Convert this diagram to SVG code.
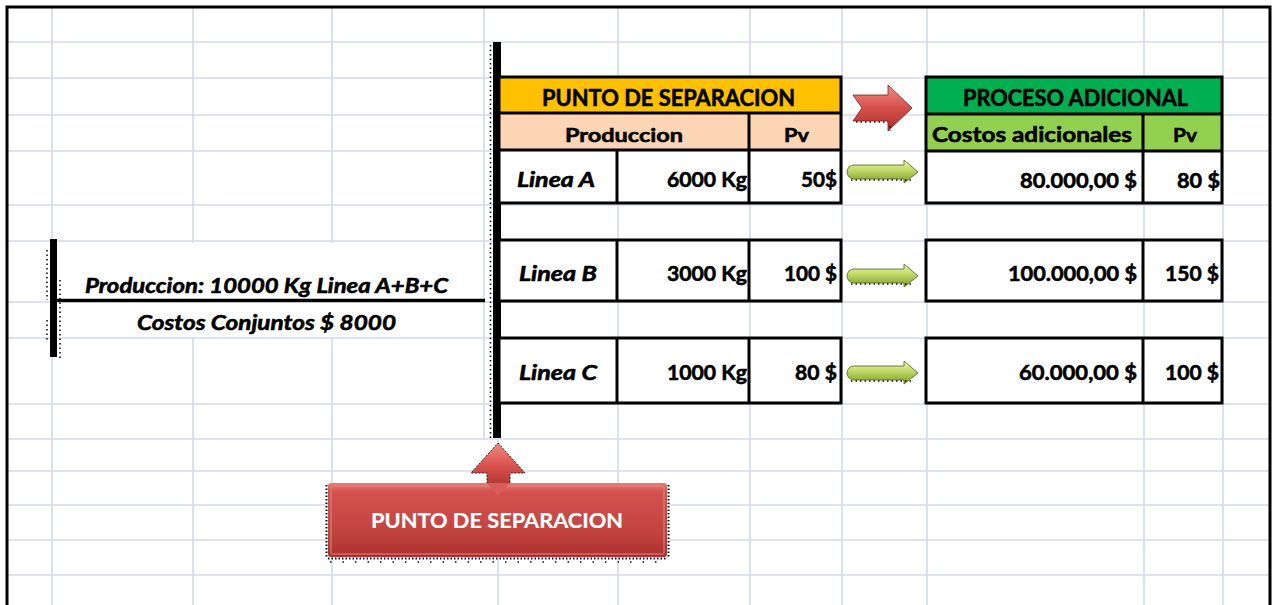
<svg xmlns="http://www.w3.org/2000/svg" width="1274" height="605" viewBox="0 0 1274 605">
<style>
.g{stroke:#D5DAE7;stroke-width:1.6;fill:none}
.b{stroke:#000;stroke-width:3;fill:none}
.t{font-family:Lato,'Open Sans','Liberation Sans',sans-serif;font-weight:700;fill:#000;stroke:#000;stroke-width:0.55}
.i{font-style:italic}
.s20{font-size:20px}
.s22{font-size:22px}
.w{fill:#fff;stroke:#fff;stroke-width:0.2}
.spk{stroke:#111;stroke-width:1.6;fill:none;stroke-dasharray:1.5 3}
</style>
<defs>
<linearGradient id="red" x1="0" y1="0" x2="0" y2="1">
<stop offset="0" stop-color="#E97A76"/>
<stop offset="0.12" stop-color="#D4524E"/>
<stop offset="0.7" stop-color="#C0423F"/>
<stop offset="1" stop-color="#A9302D"/>
</linearGradient>
<linearGradient id="redA" x1="0" y1="0" x2="0" y2="1">
<stop offset="0" stop-color="#F08A86"/>
<stop offset="0.5" stop-color="#D8504C"/>
<stop offset="1" stop-color="#A8302C"/>
</linearGradient>
<linearGradient id="lime" x1="0" y1="0" x2="0" y2="1">
<stop offset="0" stop-color="#EEF7C0"/>
<stop offset="0.4" stop-color="#C2DD6A"/>
<stop offset="1" stop-color="#7F9F2C"/>
</linearGradient>
</defs>
<rect width="1274" height="605" fill="#fff"/>
<g id="grid">
<path class="g" d="M7 42H1270M7 78H1270M7 115H1270M7 151H1270M7 205H1270M7 241H1270M7 302H1270M7 338H1270M7 404H1270M7 439H1270M7 471H1270M7 505H1270M7 540H1270M7 575H1270"/>
<path class="g" d="M52 7V605M193 7V605M332 7V605M484 7V440M498 440V605M618 7V605M750 7V605M842 7V605M927 7V605M1144 7V605M1223 7V605"/>
<rect x="53" y="243" width="430" height="94" fill="#fff"/>
<path d="M7 605V7H1270V605" fill="none" stroke="#000" stroke-width="3"/>
</g>
<g id="joint-production">
<rect x="50" y="239" width="7" height="118" fill="#000"/>
<path class="spk" d="M47 250V300M47 320V340M60 280V360"/>
<line x1="53" y1="300.5" x2="485" y2="300.5" stroke="#000" stroke-width="3.5"/>
<text class="t i s20" x="85" y="293" textLength="363" lengthAdjust="spacingAndGlyphs">Produccion: 10000 Kg Linea A+B+C</text>
<text class="t i s20" x="137" y="330" textLength="259" lengthAdjust="spacingAndGlyphs">Costos Conjuntos $ 8000</text>
</g>
<g id="split-bar">
<rect x="493" y="42" width="8" height="396" fill="#000"/>
<path class="spk" d="M490.5 45V438"/>
</g>
<g id="table-punto">
<rect x="499" y="77" width="342" height="36" fill="#FFC000"/>
<rect x="499" y="113" width="342" height="37" fill="#FCD5B4"/>
<rect x="499" y="150" width="342" height="53" fill="#fff"/>
<path class="b" d="M499 77H841V203H499ZM499 113H841M499 150H841M749 113V203M617 150V203"/>
<text class="t s22" x="542" y="106" textLength="253" lengthAdjust="spacingAndGlyphs">PUNTO DE SEPARACION</text>
<text class="t" font-size="19" x="565" y="142" textLength="118" lengthAdjust="spacingAndGlyphs">Produccion</text>
<text class="t" font-size="19" x="784" y="142" textLength="25" lengthAdjust="spacingAndGlyphs">Pv</text>
<text class="t i s20" x="517" y="187" textLength="78" lengthAdjust="spacingAndGlyphs">Linea A</text>
<text class="t s20" x="667" y="187" textLength="80" lengthAdjust="spacingAndGlyphs">6000 Kg</text>
<text class="t s20" x="801" y="187" textLength="36" lengthAdjust="spacingAndGlyphs">50$</text>
</g>
<g id="row-b-left">
<rect x="499" y="240" width="342" height="61" fill="#fff"/>
<path class="b" d="M499 240H841V301H499ZM617 240V301M749 240V301"/>
<text class="t i s20" x="519" y="281" textLength="78" lengthAdjust="spacingAndGlyphs">Linea B</text>
<text class="t s20" x="667" y="281" textLength="80" lengthAdjust="spacingAndGlyphs">3000 Kg</text>
<text class="t s20" x="784" y="281" textLength="53" lengthAdjust="spacingAndGlyphs">100 $</text>
</g>
<g id="row-c-left">
<rect x="499" y="338" width="342" height="65" fill="#fff"/>
<path class="b" d="M499 338H841V403H499ZM617 338V403M749 338V403"/>
<text class="t i s20" x="519" y="380" textLength="78" lengthAdjust="spacingAndGlyphs">Linea C</text>
<text class="t s20" x="667" y="380" textLength="80" lengthAdjust="spacingAndGlyphs">1000 Kg</text>
<text class="t s20" x="795" y="380" textLength="42" lengthAdjust="spacingAndGlyphs">80 $</text>
</g>
<g id="table-proceso">
<rect x="926" y="77" width="296" height="37" fill="#00B050"/>
<rect x="926" y="114" width="296" height="37" fill="#92D050"/>
<rect x="926" y="151" width="296" height="52" fill="#fff"/>
<path class="b" d="M926 77H1222V203H926ZM926 114H1222M926 151H1222M1143 114V203"/>
<text class="t s22" x="963" y="106" textLength="225" lengthAdjust="spacingAndGlyphs">PROCESO ADICIONAL</text>
<text class="t s20" x="932" y="142" textLength="200" lengthAdjust="spacingAndGlyphs">Costos adicionales</text>
<text class="t" font-size="19" x="1173" y="142" textLength="24" lengthAdjust="spacingAndGlyphs">Pv</text>
<text class="t s20" x="1020" y="188" textLength="117" lengthAdjust="spacingAndGlyphs">80.000,00 $</text>
<text class="t s20" x="1177" y="188" textLength="43" lengthAdjust="spacingAndGlyphs">80 $</text>
</g>
<g id="row-b-right">
<rect x="926" y="240" width="296" height="61" fill="#fff"/>
<path class="b" d="M926 240H1222V301H926ZM1143 240V301"/>
<text class="t s20" x="1008" y="281" textLength="129" lengthAdjust="spacingAndGlyphs">100.000,00 $</text>
<text class="t s20" x="1165" y="281" textLength="54" lengthAdjust="spacingAndGlyphs">150 $</text>
</g>
<g id="row-c-right">
<rect x="926" y="338" width="296" height="65" fill="#fff"/>
<path class="b" d="M926 338H1222V403H926ZM1143 338V403"/>
<text class="t s20" x="1019" y="380" textLength="118" lengthAdjust="spacingAndGlyphs">60.000,00 $</text>
<text class="t s20" x="1165" y="380" textLength="54" lengthAdjust="spacingAndGlyphs">100 $</text>
</g>
<g id="connectors">
<path d="M853 95H888V85L912 108L888 131V121H853L862 108Z" fill="url(#redA)" stroke="#7A1E1C" stroke-width="0.8"/>
<path class="spk" d="M856 122H888M890 126V131"/>
<g id="arrow-a">
<path d="M854 165H904V160L918 172L904 183V179H854A7 7 0 0 1 854 165Z" fill="url(#lime)" stroke="#4E5E18" stroke-width="0.8"/>
<path class="spk" d="M851 180H914"/>
</g>
<g id="arrow-b">
<path d="M854 269H904V264L918 276L904 287V283H854A7 7 0 0 1 854 269Z" fill="url(#lime)" stroke="#4E5E18" stroke-width="0.8"/>
<path class="spk" d="M851 284H914"/>
</g>
<g id="arrow-c">
<path d="M854 366H904V361L918 373L904 384V380H854A7 7 0 0 1 854 366Z" fill="url(#lime)" stroke="#4E5E18" stroke-width="0.8"/>
<path class="spk" d="M851 381H914"/>
</g>
</g>
<g id="button-punto">
<path d="M498 443L525 473H510V490H487V473H471Z" fill="url(#redA)" stroke="#222" stroke-width="1" stroke-dasharray="2 1.5"/>
<rect x="328" y="483" width="339" height="74" rx="3" fill="url(#red)"/>
<rect x="331" y="486" width="333" height="68" rx="2" fill="none" stroke="#E88682" stroke-opacity="0.5" stroke-width="2"/>
<path d="M487 483H510L498 496Z" fill="#D85C58"/>
<path d="M326.5 485V557M328 558.5H667M668.5 485V557" fill="none" stroke="#111" stroke-width="2" stroke-dasharray="1.5 2"/>
<path d="M330 562H664" fill="none" stroke="#111" stroke-width="1.5" stroke-dasharray="1.5 11"/>
<text class="t w" font-size="21" x="371" y="528" textLength="252" lengthAdjust="spacingAndGlyphs">PUNTO DE SEPARACION</text>
</g>
</svg>
